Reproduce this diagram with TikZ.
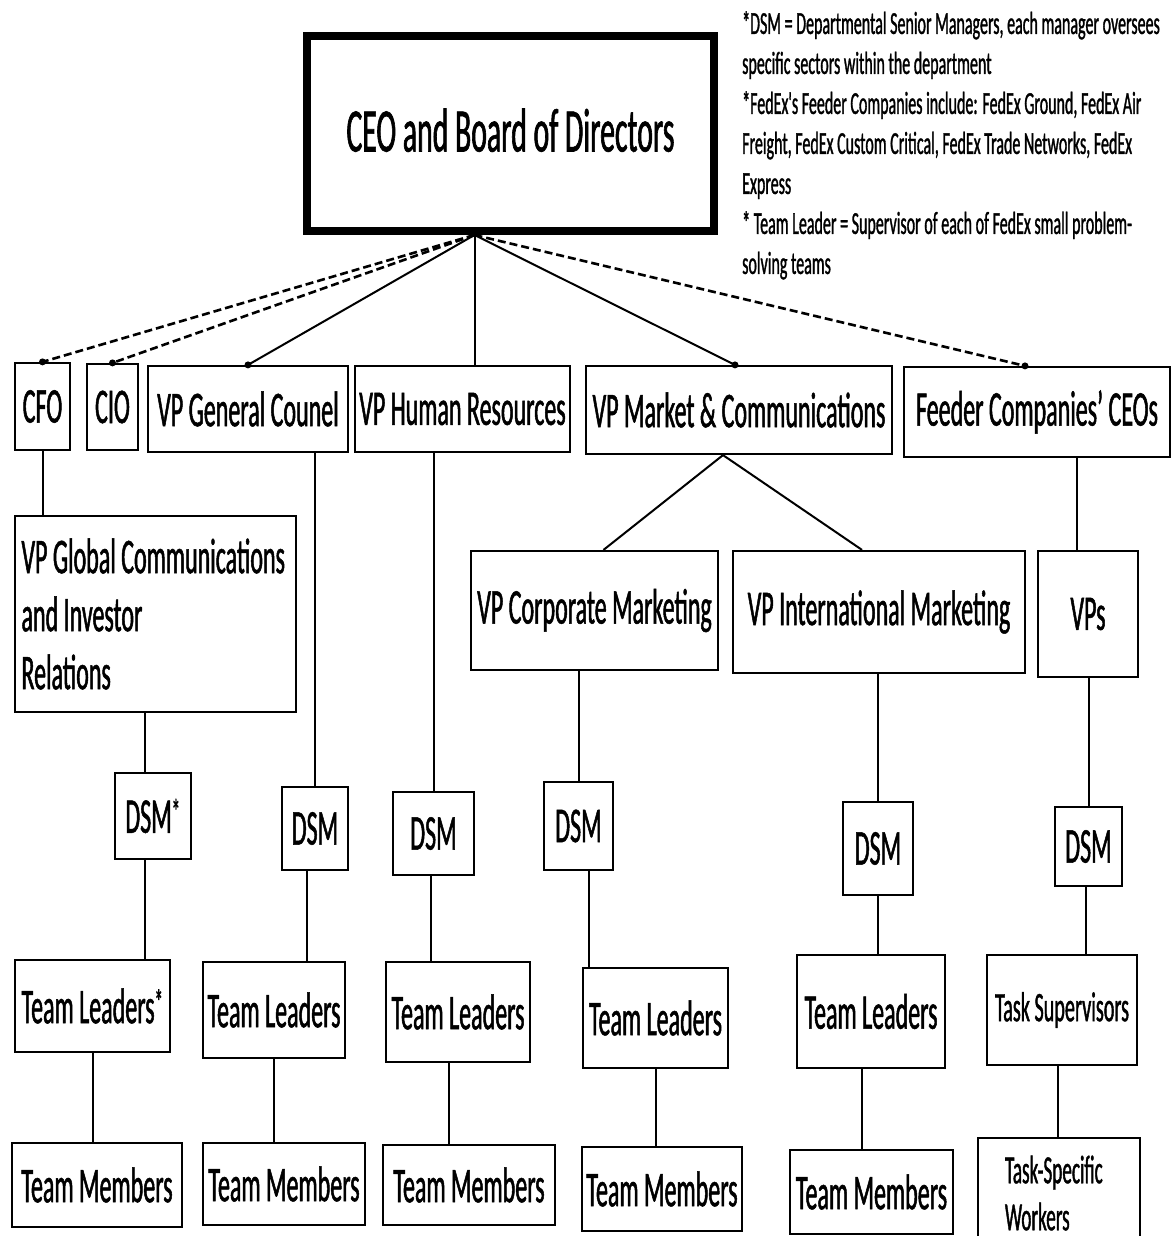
\documentclass[tikz,border=0pt]{standalone}
\usepackage{fontspec}
\setmainfont{Carlito}[FakeStretch=0.48,FakeBold=1]
\newfontfamily\notefont{Carlito}[FakeStretch=0.5,FakeBold=1]
\usepackage{tikz}

\begin{document}
\begin{tikzpicture}[x=1pt,y=-1pt,
  box/.style={draw, line width=2.2pt, inner sep=2pt, align=center,
    font=\fontsize{50}{58}\selectfont},
  link/.style={line width=2pt},
  dashlink/.style={line width=2.6pt, dash pattern=on 8pt off 4pt}]
\useasboundingbox (0,0) rectangle (1175,1236);
%==================== Vertice ==================
\node[box, line width=8pt, minimum width=407, minimum height=195,
  font=\fontsize{62}{70}\selectfont] (ceo) at (510.5,133.5) {\raisebox{7pt}{CEO and Board of Directors}};
\coordinate (hub) at ([xshift=-36pt]ceo.south);
%==================== Note ==================
\node[anchor=north west, align=left, inner sep=0pt,
  font=\notefont\fontsize{32}{40}\selectfont] (notes) at (742,11)
  {*DSM = Departmental Senior Managers, each manager oversees\\
   specific sectors within the department\\
   *FedEx's Feeder Companies include: FedEx Ground, FedEx Air\\
   Freight, FedEx Custom Critical, FedEx Trade Networks, FedEx\\
   Express\\
   * Team Leader = Supervisor of each of FedEx small problem-\\
   solving teams};
%==================== Primo livello ==================
\node[box, minimum width=55, minimum height=87] (cfo) at (42.5,406.5) {CFO};
\node[box, minimum width=51, minimum height=86] (cio) at (112.5,407) {CIO};
\node[box, minimum width=200, minimum height=86] (gc) at (248,409) {VP General Counel};
\node[box, minimum width=215, minimum height=86] (hr) at (462.5,409) {VP Human Resources};
\node[box, minimum width=306, minimum height=88] (mkt) at (739,410) {VP Market \& Communications};
\node[box, minimum width=266, minimum height=90] (feed) at (1037,412) {Feeder Companies' CEOs};
\coordinate (mkttop) at ([xshift=-4pt]mkt.north);
\coordinate (feedtop) at ([xshift=-12pt]feed.north);
%==================== Secondo livello ==================
\node[box, minimum width=281, minimum height=196, align=left] (vpglob) at (155.5,614)
  {\raisebox{9pt}{\parbox{268pt}{\raggedright VP Global Communications\\and Investor\\Relations}}};
\node[box, minimum width=247, minimum height=119] (corp) at (594.5,610.5) {VP Corporate Marketing};
\node[box, minimum width=292, minimum height=122] (intl) at (879,612) {VP International Marketing};
\node[box, minimum width=100, minimum height=126] (vps) at (1088,614) {VPs};
%==================== DSM ==================
\node[box, minimum width=76, minimum height=86] (dsm1) at (153,816) {DSM\textsuperscript{*}};
\node[box, minimum width=66, minimum height=83] (dsm2) at (315,828.5) {DSM};
\node[box, minimum width=81, minimum height=83] (dsm3) at (433.5,833.5) {DSM};
\node[box, minimum width=69, minimum height=88] (dsm4) at (578.5,826) {DSM};
\node[box, minimum width=70, minimum height=93] (dsm5) at (878,848.5) {DSM};
\node[box, minimum width=67, minimum height=79] (dsm6) at (1088.5,846.5) {DSM};
%==================== Leaders ==================
\node[box, minimum width=155, minimum height=92] (tl1) at (92.5,1006) {Team Leaders\textsuperscript{*}};
\node[box, minimum width=142, minimum height=96] (tl2) at (274,1010) {Team Leaders};
\node[box, minimum width=144, minimum height=100] (tl3) at (458,1012) {Team Leaders};
\node[box, minimum width=145, minimum height=100] (tl4) at (655.5,1018) {Team Leaders};
\node[box, minimum width=148, minimum height=113] (tl5) at (871,1011.5) {Team Leaders};
\node[box, minimum width=150, minimum height=110, font=\fontsize{42}{50}\selectfont]
  (ts) at (1062,1010) {Task Supervisors};
%==================== Members ==================
\node[box, minimum width=170, minimum height=84] (tm1) at (97,1185) {Team Members};
\node[box, minimum width=162, minimum height=82] (tm2) at (284,1184) {Team Members};
\node[box, minimum width=172, minimum height=80] (tm3) at (469,1185) {Team Members};
\node[box, minimum width=160, minimum height=84] (tm4) at (662,1189) {Team Members};
\node[box, minimum width=163, minimum height=84] (tm5) at (871.5,1192) {Team Members};
\node[box, minimum width=162, minimum height=110, align=left,
  font=\fontsize{40}{47}\selectfont] (tsw) at (1059,1193) {\raisebox{6pt}{\parbox{108pt}{\raggedright Task-Specific\\Workers}}};
%==================== Linee dal vertice ==================
\draw[dashlink] (hub) -- (cfo.north);
\draw[dashlink] (hub) -- (cio.north);
\draw[link] (hub) -- (gc.north);
\draw[link] (hub) -- (hub |- hr.north);
\draw[link] (hub) -- (mkttop);
\draw[dashlink] (hub) -- (feedtop);
\foreach \p in {cfo.north, cio.north, gc.north, mkttop, feedtop}
  \fill (\p) circle (3.5);
%==================== Collegamenti ==================
\draw[link] (cfo.south) -- (cfo.south |- vpglob.north);
\draw[link] ([xshift=-16pt]mkt.south) -- ([xshift=9pt]corp.north);
\draw[link] ([xshift=-16pt]mkt.south) -- ([xshift=-17pt]intl.north);
\draw[link] ([xshift=-11pt]vps.north) -- ([xshift=-11pt]vps.north |- feed.south);
%=======================
\draw[link] ([xshift=-8pt]dsm1.north) -- ([xshift=-8pt]dsm1.north |- vpglob.south);
\draw[link] (dsm2.north) -- (dsm2.north |- gc.south);
\draw[link] (dsm3.north) -- (dsm3.north |- hr.south);
\draw[link] (dsm4.north) -- (dsm4.north |- corp.south);
\draw[link] (dsm5.north) -- (dsm5.north |- intl.south);
\draw[link] (dsm6.north) -- (dsm6.north |- vps.south);
%=======================
\draw[link] ([xshift=-8pt]dsm1.south) -- ([xshift=-8pt]dsm1.south |- tl1.north);
\draw[link] ([xshift=-8pt]dsm2.south) -- ([xshift=-8pt]dsm2.south |- tl2.north);
\draw[link] ([xshift=-3pt]dsm3.south) -- ([xshift=-3pt]dsm3.south |- tl3.north);
\draw[link] ([xshift=10pt]dsm4.south) -- ([xshift=10pt]dsm4.south |- tl4.north);
\draw[link] (dsm5.south) -- (dsm5.south |- tl5.north);
\draw[link] ([xshift=-3pt]dsm6.south) -- ([xshift=-3pt]dsm6.south |- ts.north);
%=======================
\draw[link] (tl1.south) -- (tl1.south |- tm1.north);
\draw[link] (tl2.south) -- (tl2.south |- tm2.north);
\draw[link] ([xshift=-9pt]tl3.south) -- ([xshift=-9pt]tl3.south |- tm3.north);
\draw[link] (tl4.south) -- (tl4.south |- tm4.north);
\draw[link] ([xshift=-9pt]tl5.south) -- ([xshift=-9pt]tl5.south |- tm5.north);
\draw[link] ([xshift=-4pt]ts.south) -- ([xshift=-4pt]ts.south |- tsw.north);
\end{tikzpicture}
\end{document}
